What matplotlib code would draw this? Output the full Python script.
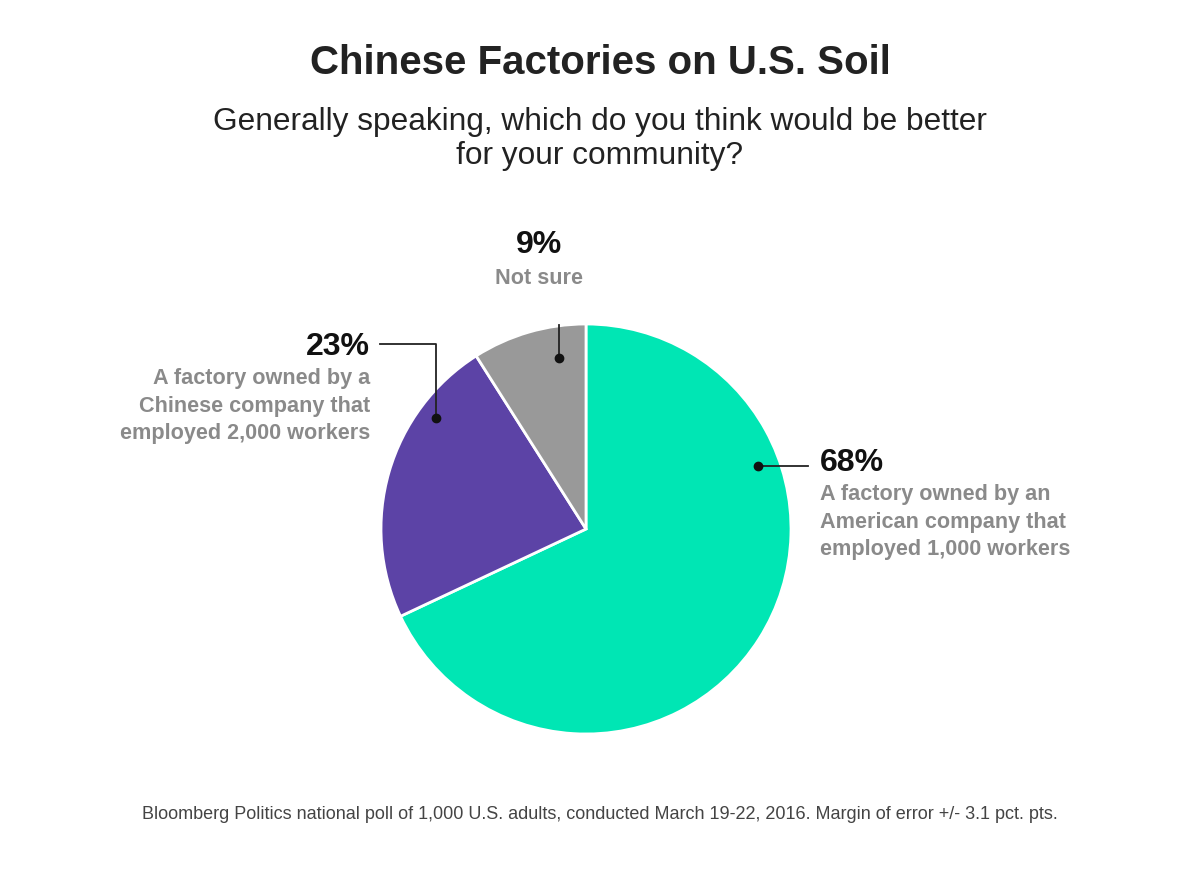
import matplotlib.pyplot as plt
import numpy as np

plt.rcParams['font.family'] = ['Liberation Sans', 'DejaVu Sans']

# poll results
shares = [68, 23, 9]
pct_labels = ['68%', '23%', '9%']
answers = ['A factory owned by an\nAmerican company that\nemployed 1,000 workers',
           'A factory owned by a\nChinese company that\nemployed 2,000 workers',
           'Not sure']
colors = ['#00e6b4', '#5c43a6', '#999999']

fig = plt.figure(figsize=(12, 8.69), dpi=100)
ax = fig.add_axes([0, 0, 1, 1])

cx, cy, r = 586, 340, 205
ax.pie(shares, colors=colors, startangle=90, counterclock=False,
       center=(cx, cy), radius=r, frame=True,
       wedgeprops=dict(edgecolor='white', linewidth=2))
ax.set_xlim(0, 1200)
ax.set_ylim(0, 869)
ax.set_aspect('equal')
ax.axis('off')

# dot positions inside each wedge (angle in degrees, distance from centre)
dot_angle = [20, 143.5, 99]
dot_dist = [183, 187, 173]
dots = [(cx + d * np.cos(np.radians(a)), cy + d * np.sin(np.radians(a)))
        for a, d in zip(dot_angle, dot_dist)]

# leader lines
(x0, y0), (x1, y1), (x2, y2) = dots
ax.plot([x0, x0 + 50], [y0, y0], color='#222222', lw=1.3)
ax.plot([x1, x1, x1 - 56], [y1, 525, 525], color='#222222', lw=1.3)
ax.plot([x2, x2], [y2, 544], color='#222222', lw=1.3)
for x, y in dots:
    ax.plot(x, y, 'o', color='#111111', ms=6)

big = dict(fontsize=23, fontweight='bold', color='#111111')
small = dict(fontsize=15.6, color='#8a8a8a', fontweight='bold', linespacing=1.42)

ax.text(820, 406, pct_labels[0], ha='left', va='center', **big)
ax.text(820, 385, answers[0], ha='left', va='top', **small)

ax.text(370, 522, pct_labels[1], ha='right', va='center', **big)
ax.text(370, 501, answers[1], ha='right', va='top', **small)

ax.text(539, 624, pct_labels[2], ha='center', va='center', **big)
ax.text(539, 590, answers[2], ha='center', va='center', **small)

fig.text(0.5, 0.927, 'Chinese Factories on U.S. Soil', ha='center', va='center',
         fontsize=29, fontweight='bold', color='#222222')
fig.text(0.5, 0.840, 'Generally speaking, which do you think would be better\nfor your community?',
         ha='center', va='center', fontsize=22.8, color='#222222', linespacing=1.2)
fig.text(0.5, 0.063, 'Bloomberg Politics national poll of 1,000 U.S. adults, conducted March 19-22, 2016. '
         'Margin of error +/- 3.1 pct. pts.', ha='center', va='center', fontsize=13, color='#444444')

fig.savefig('out.png', dpi=100, facecolor='white')
